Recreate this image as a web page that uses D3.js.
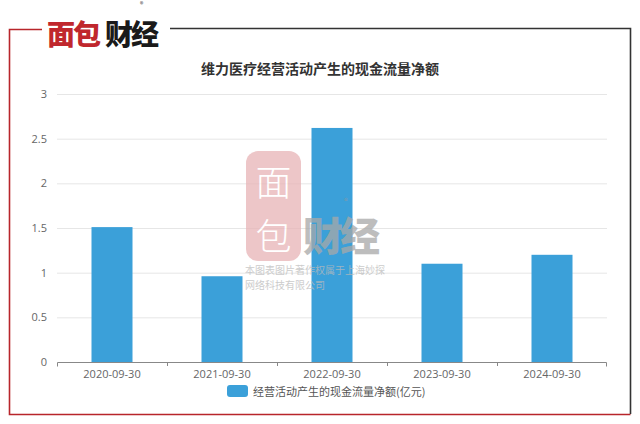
<!DOCTYPE html>
<html><head><meta charset="utf-8">
<script src="https://cdn.jsdelivr.net/npm/d3@7"></script>
<style>body{margin:0;background:#fff}svg{display:block;font-family:"Noto Sans CJK SC","Open Sans",sans-serif}</style>
</head><body>
<script>
const categories = ["2020-09-30","2021-09-30","2022-09-30","2023-09-30","2024-09-30"];
const values = [1.51, 0.96, 2.62, 1.10, 1.20];
const yTicks = [0, 0.5, 1, 1.5, 2, 2.5, 3];
const title = "维力医疗经营活动产生的现金流量净额";
const seriesName = "经营活动产生的现金流量净额(亿元)";

const W = 640, H = 424;
const svg = d3.select("body").append("svg").attr("width", W).attr("height", H);

// frame
svg.append("path").attr("d","M42,29.5 H9.5 V414.5 H630.5").attr("fill","none").attr("stroke","#b8252b").attr("stroke-width",1.6);
svg.append("path").attr("d","M170,28.5 H630.5 V414").attr("fill","none").attr("stroke","#333").attr("stroke-width",1.6);

// logo
const logo = svg.append("g");
logo.append("text").attr("x",47).attr("y",45).attr("font-size",28).attr("font-weight",900)
  .attr("fill","#c0272d").attr("letter-spacing",-2).text("面包");
logo.append("text").attr("x",105).attr("y",45).attr("font-size",28).attr("font-weight",900)
  .attr("fill","#1a1a1a").attr("letter-spacing",-2).text("财经");
logo.append("text").attr("x",140).attr("y",7).attr("font-size",7).attr("fill","#333").text("®");

const m = {left:57, right:607, top:94, bottom:362};
const x = d3.scaleBand().domain(categories).range([m.left, m.right]);
const y = d3.scaleLinear().domain([0,3]).range([m.bottom, m.top]);

// grid
svg.append("g").selectAll("line").data(yTicks.filter(d=>d>0)).join("line")
  .attr("x1",m.left).attr("x2",m.right).attr("y1",d=>y(d)+0.5).attr("y2",d=>y(d)+0.5)
  .attr("stroke","#e6e6e6");

// y labels
svg.append("g").selectAll("text").data(yTicks).join("text")
  .attr("x",47).attr("y",d=>y(d)+4).attr("text-anchor","end")
  .attr("font-size",11).attr("fill","#666").attr("font-family","Open Sans, sans-serif").text(d=>d);

// bars
const bw = 41;
svg.append("g").selectAll("rect").data(values).join("rect")
  .attr("x",(d,i)=>x(categories[i])+x.bandwidth()/2-bw/2)
  .attr("y",d=>y(d)).attr("width",bw).attr("height",d=>y(0)-y(d))
  .attr("fill","#3ba0d9");

// x axis
const xAxis = d3.axisBottom(x).tickSize(0).tickPadding(8);
const gx = svg.append("g").attr("transform",`translate(0,${m.bottom})`).call(xAxis);
gx.select(".domain").attr("stroke","#888").attr("d",`M${m.left+0.5},4.5V0.5H${m.right-0.5}V4.5`);
gx.selectAll("text").attr("font-size",11).attr("fill","#666").attr("font-family","Open Sans, sans-serif");
gx.selectAll(".bt").data(categories.slice(1)).join("line").attr("class","bt")
  .attr("x1",d=>x(d)+0.5).attr("x2",d=>x(d)+0.5).attr("y1",0).attr("y2",4).attr("stroke","#888");

// watermark
const wm = svg.append("g").attr("opacity",0.75);
wm.append("rect").attr("x",246).attr("y",151).attr("width",55).attr("height",110).attr("rx",12)
  .attr("fill","#e8b4b6");
wm.append("text").attr("x",273.5).attr("y",196).attr("text-anchor","middle").attr("font-size",36)
  .attr("font-weight",300).attr("fill","#fff").text("面");
wm.append("text").attr("x",273.5).attr("y",250).attr("text-anchor","middle").attr("font-size",36)
  .attr("font-weight",300).attr("fill","#fff").text("包");
wm.append("text").attr("x",303).attr("y",251).attr("font-size",40).attr("font-weight",900)
  .attr("fill","#a8a8a8").attr("letter-spacing",-3).text("财经");
wm.append("text").attr("x",344).attr("y",204).attr("font-size",8).attr("fill","#999").text("®");
wm.append("text").attr("x",245).attr("y",274).attr("font-size",10).attr("fill","#bbb").text("本图表图片著作权属于上海妙探");
wm.append("text").attr("x",245).attr("y",289).attr("font-size",10).attr("fill","#bbb").text("网络科技有限公司");

// title
svg.append("text").attr("x",320).attr("y",74).attr("text-anchor","middle")
  .attr("font-size",14).attr("font-weight",700).attr("fill","#333").text(title);

// legend
svg.append("rect").attr("x",227).attr("y",385).attr("width",21).attr("height",12).attr("rx",3).attr("fill","#3ba0d9");
svg.append("text").attr("x",253).attr("y",395.5).attr("font-size",11).attr("fill","#555").text(seriesName);
</script>
</body></html>
